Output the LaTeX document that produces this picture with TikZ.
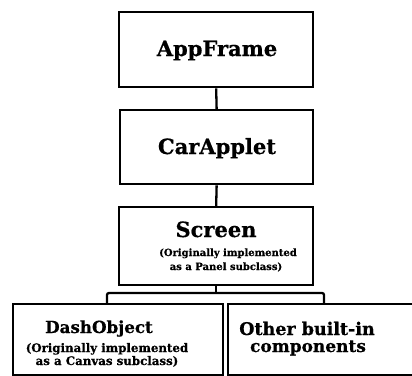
\documentclass[tikz,border=0pt]{standalone}
\usepackage{fontspec}
\setmainfont[BoldFeatures={FakeBold=0.6}]{DejaVu Serif}
\newcommand{\fsz}[1]{\fontsize{#1}{#1}\selectfont\bfseries}
\begin{document}
\begin{tikzpicture}[x=1pt,y=-1pt,
  box/.style={draw=black,line width=2.3pt,inner sep=0pt,anchor=north west},
  title/.style={font=\fsz{21},anchor=base,inner sep=0pt},
  subtitle/.style={font=\fsz{17},anchor=base,inner sep=0pt},
  note/.style={font=\fsz{10},anchor=base,inner sep=0pt},
  link/.style={line width=2.3pt}]
\useasboundingbox (0,0) rectangle (412,375);
% class boxes
\node[box,minimum width=194pt,minimum height=75pt] (app) at (118,11) {};
\node[box,minimum width=193pt,minimum height=74pt] (car) at (119,109) {};
\node[box,minimum width=194pt,minimum height=78pt] (screen) at (118,206) {};
\node[box,minimum width=210pt,minimum height=71pt] (dash) at (12,303) {};
\node[box,minimum width=188pt,minimum height=71pt] (other) at (227,303) {};
% labels
\node[title] (tapp) at (217,56) {AppFrame};
\node[title] (tcar) at (217,154) {CarApplet};
\node[title] (tscr) at (216,237) {Screen};
\node[note] (nscr1) at (228,256) {(Originally implemented};
\node[note] (nscr2) at (226,270) {as a Panel subclass)};
\node[subtitle,font=\fsz{16.7}] (tdash) at (99,333) {DashObject};
\node[note,font=\fsz{11.8}] (ndash1) at (107,352) {(Originally implemented};
\node[note,font=\fsz{11.8}] (ndash2) at (107,365) {as a Canvas subclass)};
\node[subtitle,font=\fsz{17.5}] (toth1) at (307,335) {Other built-in};
\node[subtitle] (toth2) at (308,352) {components};
% connectors
\coordinate (jl) at (107,293);
\coordinate (jr) at (324,293);
\draw[link] (app.south) -- (car.north);
\draw[link] (car.south) -- (screen.north);
\draw[link] (screen.south) -- (screen.south |- jl);
\draw[link,rounded corners=2pt] (dash.north -| jl) -- (jl) -- (jr) -- (other.north -| jr);
\end{tikzpicture}
\end{document}
